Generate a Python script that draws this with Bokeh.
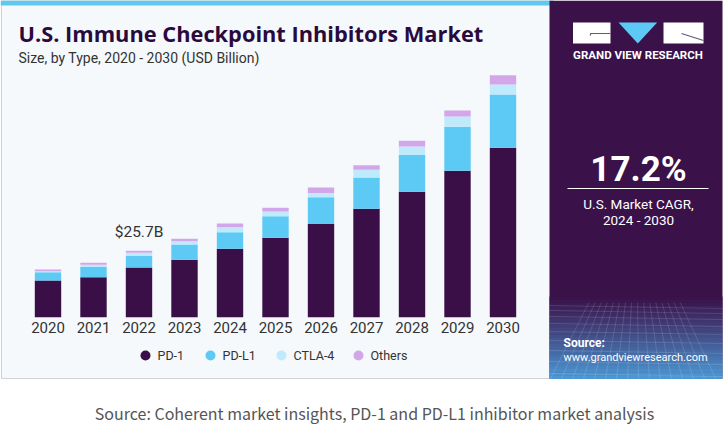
from bokeh.plotting import figure
from bokeh.models import Range1d, ColumnDataSource
from bokeh.core.properties import value
from bokeh.embed import file_html
from bokeh.resources import INLINE

# ---------------- data (USD Billion) ----------------
years = ["2020", "2021", "2022", "2023", "2024", "2025", "2026", "2027", "2028", "2029", "2030"]
pd1 = [14.2, 15.5, 19.2, 22.2, 26.5, 30.7, 36.1, 42.0, 48.5, 56.7, 65.6]
pdl1 = [3.2, 3.9, 4.5, 5.9, 6.4, 8.4, 10.3, 12.1, 14.4, 17.0, 20.6]
ctla4 = [0.4, 0.9, 1.2, 1.3, 1.9, 1.8, 1.7, 3.0, 3.2, 4.0, 3.9]
others = [0.65, 0.8, 0.8, 1.0, 1.5, 1.5, 2.1, 1.7, 2.2, 2.3, 3.5]
series = ["PD-1", "PD-L1", "CTLA-4", "Others"]
highlight_year = "2022"
cagr_text = "17.2%"

# ---------------- styles ----------------
colors = ["#3a0f48", "#5ccaf5", "#bfeafb", "#d3a6ea"]
W, H = 728, 426
FONT = "Roboto"

p = figure(width=W, height=H, x_range=Range1d(0, W), y_range=Range1d(H, 0),
           min_border=0, toolbar_location=None, output_backend="svg",
           x_axis_location=None, y_axis_location=None)
p.grid.visible = False
p.outline_line_color = None
p.background_fill_color = "white"
p.border_fill_color = "white"

# data ranges overlaid on the same frame
p.extra_x_ranges = {"bx": Range1d(-1.0440, 14.956)}
p.extra_y_ranges = {"by": Range1d(-42.30, 122.56)}

# ---------------- card background ----------------
p.quad(left=[1], right=[553], top=[0], bottom=[378], fill_color="#f5f9fc",
       line_color="#cfd3d8", line_width=1)
p.quad(left=[0], right=[553], top=[0], bottom=[5], fill_color="#5ccaf0", line_color=None)

# ---------------- right panel ----------------
p.quad(left=[549], right=[722], top=[0], bottom=[378], fill_color="#3a1149", line_color=None)
# bottom gradient
n = 26
c0 = (0x3a, 0x11, 0x49)
c1 = (0x4c, 0x9a, 0xd6)
g_top, g_bot = 296.0, 378.0
lefts, rights, tops, bots, gcols = [], [], [], [], []
for j in range(n):
    t = (j + 0.5) / n
    t2 = t ** 1.1
    col = "#%02x%02x%02x" % tuple(int(round(a + (b - a) * t2)) for a, b in zip(c0, c1))
    lefts.append(549); rights.append(722)
    tops.append(g_top + (g_bot - g_top) * j / n)
    bots.append(g_top + (g_bot - g_top) * (j + 1) / n + 0.5)
    gcols.append(col)
p.quad(left=lefts, right=rights, top=tops, bottom=bots, fill_color=gcols, line_color=None)
# faint perspective grid
hy = [305, 310, 316, 323, 331, 340, 350, 361, 373]
xs = [[549, 722] for _ in hy]
ys = [[y, y + 3] for y in hy]
for bx in range(528, 748, 11):
    vx, vy = 636, 208
    top_y, bot_y = 302, 378
    x_top = vx + (bx - vx) * (top_y - vy) / (bot_y - vy)
    if 549 <= x_top <= 722 and 549 <= bx <= 722:
        xs.append([x_top, bx]); ys.append([top_y, bot_y])
p.multi_line(xs=xs, ys=ys, line_color="white", line_alpha=0.13, line_width=1)

# logo
p.quad(left=[572.5, 663], right=[610, 703], top=[22, 22], bottom=[43, 43],
       fill_color="white", line_color=None)
p.patch(x=[618, 656.7, 637.3], y=[22, 22, 43], fill_color="#5ccaf5", line_color=None)
p.multi_line(xs=[[590, 590, 610], [681, 703]], ys=[[35, 33, 33], [33, 40]],
             line_color="#6a5478", line_width=1.2)
p.text(x=[637.5], y=[54], text=["GRAND VIEW RESEARCH"], text_font=value(FONT),
       text_font_style="bold", text_font_size="11.5px", text_color="white",
       text_align="center", text_baseline="middle")

# CAGR
p.text(x=[638], y=[169], text=[cagr_text], text_font=value(FONT), text_font_style="bold",
       text_font_size="35px", text_color="white", text_align="center", text_baseline="middle")
p.segment(x0=[567], y0=[188], x1=[708], y1=[188], line_color="white", line_width=1)
p.text(x=[638, 638], y=[203, 219], text=["U.S. Market CAGR,", "2024 - 2030"],
       text_font=value(FONT), text_font_size="13.5px", text_color="white",
       text_align="center", text_baseline="middle")
p.text(x=[563], y=[342], text=["Source:"], text_font=value(FONT), text_font_style="bold",
       text_font_size="12px", text_color="white", text_align="left", text_baseline="middle")
p.text(x=[563], y=[357], text=["www.grandviewresearch.com"], text_font=value(FONT),
       text_font_size="11px", text_color="white", text_align="left", text_baseline="middle")

# ---------------- titles ----------------
p.text(x=[18], y=[33], text=["U.S. Immune Checkpoint Inhibitors Market"], text_font=value("Open Sans"),
       text_font_style="bold", text_font_size="21.8px", text_color="#2a0a3c",
       text_align="left", text_baseline="middle")
p.text(x=[18], y=[57], text=["Size, by Type, 2020 - 2030 (USD Billion)"], text_font=value(FONT),
       text_font_size="14px", text_color="#333333", text_align="left", text_baseline="middle")

# ---------------- bars ----------------
idx = list(range(len(years)))
src = ColumnDataSource(data={"x": idx, "year": years, series[0]: pd1, series[1]: pdl1,
                             series[2]: ctla4, series[3]: others})
p.vbar_stack(series, x="x", width=0.58, color=colors, line_color=None, source=src,
             x_range_name="bx", y_range_name="by")

# year labels
p.text(x=idx, y=[327] * len(years), text=years, x_range_name="bx", text_font=value(FONT),
       text_font_size="15px", text_color="#333333", text_align="center", text_baseline="middle")

# highlighted total
hi = years.index(highlight_year)
total = pd1[hi] + pdl1[hi] + ctla4[hi] + others[hi]
p.text(x=[hi], y=[total], text=["$%.1fB" % total], x_range_name="bx", y_range_name="by",
       y_offset=-19, text_font=value(FONT), text_font_size="15.5px", text_color="#333333",
       text_align="center", text_baseline="middle")

# ---------------- legend ----------------
leg_x = [145, 210, 281, 358]
p.scatter(x=leg_x, y=[355] * 4, size=10, marker="circle", color=colors, line_color=None)
p.text(x=[v + 12 for v in leg_x], y=[355] * 4, text=series, text_font=value(FONT),
       text_font_size="12.5px", text_color="#333333", text_align="left", text_baseline="middle")

# ---------------- bottom source ----------------
p.text(x=[374], y=[412], text=["Source: Coherent market insights, PD-1 and PD-L1 inhibitor market analysis"],
       text_font=value("Noto Sans CJK KR"), text_font_size="16px", text_color="#555555",
       text_align="center", text_baseline="middle")

open("out.html", "w").write(file_html(p, INLINE))
